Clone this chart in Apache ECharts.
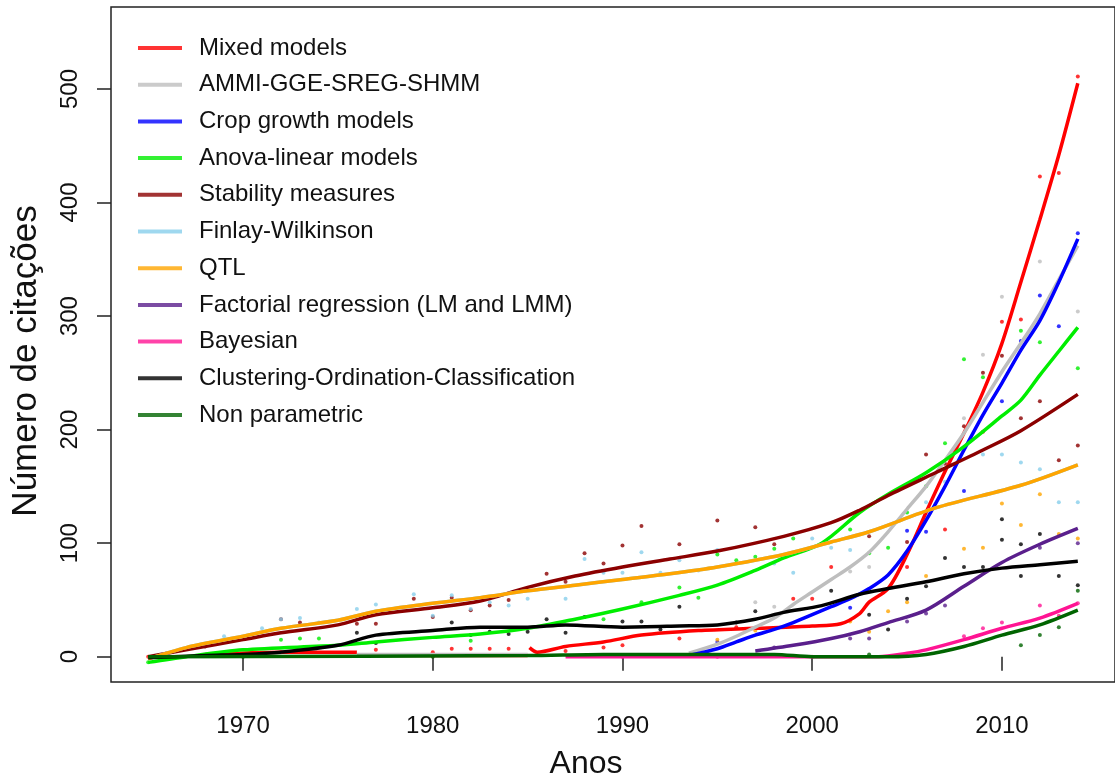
<html>
<head>
<meta charset="UTF-8">
<title>Número de citações</title>
<script src="https://cdn.jsdelivr.net/npm/echarts@6.0.0/dist/echarts.min.js"></script>
<style>
  html, body { margin: 0; padding: 0; background: #fff; }
  #main { width: 1115px; height: 778px; }
</style>
</head>
<body>
<div id="main"></div>
<script type="text/javascript">
// eixos
var xTicks = [1970, 1980, 1990, 2000, 2010];
var yTicks = [0, 100, 200, 300, 400, 500];

var names = ['Mixed models', 'AMMI-GGE-SREG-SHMM', 'Crop growth models', 'Anova-linear models',
  'Stability measures', 'Finlay-Wilkinson', 'QTL', 'Factorial regression (LM and LMM)',
  'Bayesian', 'Clustering-Ordination-Classification', 'Non parametric'];
var colors = ['#ff0000', '#bebebe', '#0000ff', '#00ee00', '#8b0000', '#87ceeb', '#ffa500',
  '#5a1f8c', '#ff1493', '#000000', '#006400'];

// curvas ajustadas (null = quebra)
var mixedLine = [[1968,2],[1972,4],[1976,4],null,[1976.2,1],[1985,1],null,[1985.1,8],[1985.5,4],[1987,9],
  [1989,13],[1991,19],[1994,23],[1997,25],[2000,27],[2001.5,29],[2002.5,38],[2003,48],[2004,60],[2005,90],
  [2006,127],[2007,163],[2008,197],[2009,233],[2010,276],[2011,330],[2012,385],[2013,442],[2014,505]];
var ammiLine = [[1976,2],[1985,2],null,[1993.5,3],[1995,11],[1996,18],[1997,26],[1998,34],[1999,46],[2000,57],
  [2001,68],[2002,79],[2003,92],[2004,110],[2005,130],[2006,150],[2007,173],[2008,197],[2009,224],
  [2010,251],[2011,276],[2012,302],[2013,332],[2014,362]];
var cropLine = [[1993.5,1],[1995,7],[1996,13],[1997,19],[1998,24],[1999,30],[2000,37],[2001,44],[2002,51],
  [2003,60],[2004,72],[2005,93],[2006,120],[2007,150],[2008,182],[2009,213],[2010,241],[2011,270],
  [2012,296],[2013,330],[2014,368]];
var anovaLine = [[1965,-5],[1967,0],[1970,6],[1975,10],[1977,13],[1980,17],[1982.5,20],[1985,25],[1987.5,33],
  [1990,42],[1993,54],[1995,63],[1997,76],[1998.5,87],[2000.5,100],[2002.5,127],[2004,143],[2006,162],
  [2008,185],[2010,212],[2011,226],[2012,248],[2013,269],[2014,290]];
var stabLine = [[1965,0],[1967,6],[1970,15],[1972,21],[1975,28],[1977,37],[1980,43],[1982.5,49],[1985,61],
  [1987.5,71],[1990,79],[1992.5,86],[1995,93],[1998.5,106],[2001,118],[2002.5,129],[2004,142],
  [2006.5,162],[2009,182],[2011,199],[2014,231]];
var qtlLine = [[1965,-2],[1967,8],[1970,18],[1972,25],[1975,32],[1977,40],[1980,47],[1982.5,52],[1985,58],
  [1987.5,63],[1990,68],[1992.5,73],[1995,79],[1998.5,90],[2001,101],[2003,110],[2006.5,131],
  [2011,151],[2014,169]];
// la curva azul clara queda bajo la naranja
var finlayLine = [[1965,-2],[1967,8],[1970,18],[1972,25],[1975,32],[1977,40],[1980,47],[1982.5,52],[1985,58],
  [1987.5,63],[1990,68],[1992.5,73],[1995,79],[1998.5,90],[2001,101],[2003,110],[2006.5,131],
  [2011,151],[2014,169]];
var factLine = [[1997,5],[1999,10],[2001,16],[2002.5,22],[2004,30],[2006,41],[2008,62],[2010,83],
  [2012,99],[2014,113]];
var bayesLine = [[1987,0],[2003.5,0],[2005,3],[2006,6],[2008,15],[2010,25],[2012,34],[2014,47]];
var clustLine = [[1965,-1],[1968,1],[1970,2],[1972,4],[1975,10],[1977,19],[1980,23],[1982.5,26],[1985,26],
  [1987,28],[1990,26],[1993,27],[1995,28],[1997,33],[1998.5,39],[2000.5,45],[2002.5,55],[2004,60],
  [2006,66],[2008,73],[2010,78],[2012,81],[2014,84]];
var nonparLine = [[1965,0],[1985,1],[1989,2],[1998,2],[2000,0],[2004,0],[2006,2],[2008,9],[2010,19],
  [2012,28],[2014,41]];

// pontos observados
var mixedPts = [[1965,0],[1972,4],[1977,6],[1980,4],[1981,7],[1982,7],[1983,7],[1984,7],[1987,5],[1989,8],
  [1990,10],[1993,16],[1996,26],[1999,51],[2000,51],[2001,79],[2005,79],[2007,112],[2009,198],
  [2010,295],[2011,297],[2012,423],[2013,426],[2014,511]];
var ammiPts = [[1997,48],[1998,44],[2002,75],[2003,79],[2008,210],[2009,266],[2010,317],[2012,348],[2014,304]];
var cropPts = [[1995,13],[2002,43],[2005,111],[2006,110],[2008,146],[2010,225],[2011,278],[2012,318],
  [2013,291],[2014,373]];
var anovaPts = [[1965,-5],[1972,15],[1973,16],[1974,16],[1982,14],[1989,33],[1991,48],[1993,61],[1994,52],
  [1995,90],[1996,85],[1997,88],[1998,95],[1999,104],[2002,112],[2003,91],[2004,96],[2005,127],
  [2006,150],[2007,188],[2008,262],[2009,246],[2011,287],[2012,277],[2014,254]];
var stabPts = [[1968,9],[1972,33],[1973,30],[1976,29],[1977,29],[1979,51],[1980,35],[1981,52],[1982,41],
  [1983,45],[1984,50],[1986,73],[1987,66],[1988,91],[1989,82],[1990,98],[1991,115],[1993,99],[1995,120],
  [1997,114],[1998,99],[2003,106],[2005,101],[2006,178],[2007,170],[2008,203],[2009,250],[2010,265],
  [2011,210],[2012,225],[2013,173],[2014,186]];
var finlayPts = [[1969,18],[1971,25],[1972,33],[1973,34],[1974,30],[1976,42],[1977,46],[1979,55],[1980,36],
  [1981,54],[1982,42],[1983,48],[1984,45],[1985,51],[1987,51],[1988,86],[1989,74],[1990,74],[1991,92],
  [1992,74],[1993,85],[1994,76],[1995,94],[1998,82],[1999,74],[2000,104],[2001,96],[2002,94],[2006,136],
  [2007,154],[2009,178],[2010,178],[2011,171],[2012,165],[2013,136],[2014,136]];
var qtlPts = [[1995,15],[1997,23],[2002,31],[2003,22],[2004,40],[2005,48],[2006,71],[2008,95],[2009,96],
  [2010,135],[2011,116],[2012,143],[2013,108],[2014,104]];
var factPts = [[1998,8],[2002,16],[2003,16],[2005,31],[2006,38],[2007,45],[2012,96],[2014,100]];
var bayesPts = [[1990,0],[1995,0],[2000,0],[2008,18],[2009,25],[2010,30],[2012,45],[2013,36],[2014,47]];
var clustPts = [[1976,21],[1977,12],[1981,30],[1982,19],[1983,22],[1984,20],[1985,22],[1986,33],[1987,21],
  [1988,35],[1990,31],[1991,31],[1992,24],[1993,44],[1996,30],[1997,40],[2001,58],[2003,37],[2004,24],
  [2005,51],[2006,62],[2007,87],[2008,79],[2009,79],[2010,121],[2010,103],[2011,99],[2011,71],
  [2012,108],[2013,71],[2014,63]];
var nonparPts = [[1970,0],[1980,0],[1990,1],[2003,2],[2011,10],[2012,19],[2013,26],[2014,58]];

var lines = [mixedLine, ammiLine, cropLine, anovaLine, stabLine, finlayLine, qtlLine, factLine, bayesLine, clustLine, nonparLine];
var points = [mixedPts, ammiPts, cropPts, anovaPts, stabPts, finlayPts, qtlPts, factPts, bayesPts, clustPts, nonparPts];

function toData(arr) {
  var res = [];
  for (var i = 0; i < arr.length; i++) {
    res.push(arr[i] === null ? [NaN, NaN] : arr[i]);
  }
  return res;
}

var series = [];
for (var i = 0; i < names.length; i++) {
  series.push({
    name: names[i],
    type: 'scatter',
    data: points[i],
    symbolSize: 4,
    itemStyle: { color: colors[i] },
    z: 2
  });
}
for (var j = 0; j < names.length; j++) {
  series.push({
    name: names[j],
    type: 'line',
    data: toData(lines[j]),
    showSymbol: false,
    smooth: 0.3,
    connectNulls: false,
    lineStyle: { color: colors[j], width: 3.5 },
    itemStyle: { color: colors[j] },
    z: 3
  });
}

var legendData = [];
for (var k = 0; k < names.length; k++) {
  legendData.push({ name: names[k], icon: 'rect' });
}

var font = 'Liberation Sans, Arial, sans-serif';
var plainNum = function (v) { return String(v); };
var option = {
  animation: false,
  backgroundColor: '#fff',
  textStyle: { fontFamily: font },
  grid: {
    show: true,
    left: 111, right: -4, top: 7, bottom: 96,
    borderColor: '#222', borderWidth: 1.5
  },
  legend: {
    data: legendData,
    orient: 'vertical',
    left: 133, top: 31,
    itemWidth: 44, itemHeight: 4,
    itemGap: 12.7,
    textStyle: { fontSize: 24, lineHeight: 24, color: '#111', fontFamily: font, padding: [0, 0, 0, 12] }
  },
  xAxis: {
    type: 'value',
    min: 1963.04, max: 2015.96,
    axisLine: { show: false },
    splitLine: { show: false },
    axisTick: { show: true, inside: false, length: 14, customValues: xTicks, lineStyle: { color: '#222', width: 1.5 } },
    axisLabel: { customValues: xTicks, formatter: plainNum, fontSize: 24, color: '#111', margin: 32, fontFamily: font }
  },
  yAxis: {
    type: 'value',
    min: -22.3, max: 572.2,
    axisLine: { show: false },
    splitLine: { show: false },
    axisTick: { show: true, inside: false, length: 14, customValues: yTicks, lineStyle: { color: '#222', width: 1.5 } },
    axisLabel: { customValues: yTicks, formatter: plainNum, fontSize: 24, color: '#111', margin: 29, rotate: 90, fontFamily: font }
  },
  graphic: [
    { type: 'text', x: 586, y: 764, style: { text: 'Anos', fontSize: 32, fontFamily: font, fill: '#111', textAlign: 'center', textVerticalAlign: 'middle' } },
    { type: 'text', x: 26, y: 361, rotation: Math.PI / 2, style: { text: 'Número de citações', fontSize: 35, fontFamily: font, fill: '#111', textAlign: 'center', textVerticalAlign: 'middle' } }
  ],
  series: series
};

var chart = echarts.init(document.getElementById('main'));
chart.setOption(option);
</script>
</body>
</html>
